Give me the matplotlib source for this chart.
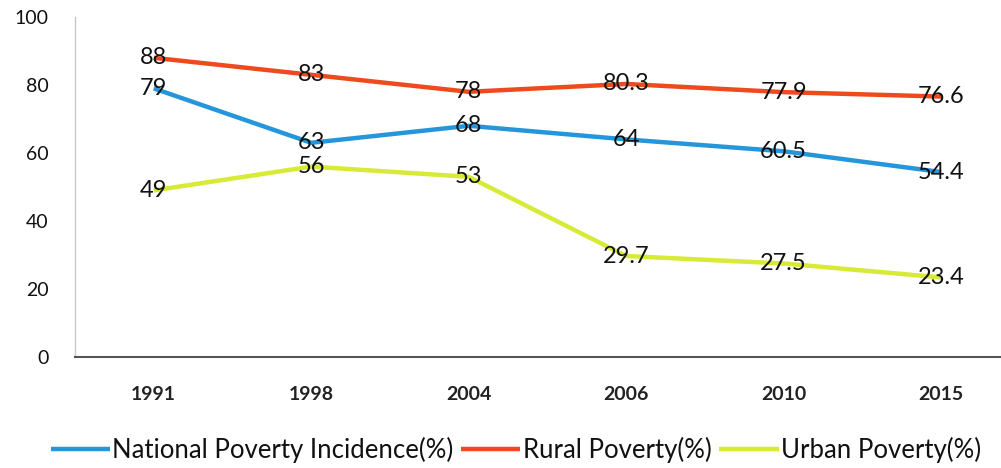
import matplotlib
matplotlib.use("Agg")
import matplotlib.pyplot as plt

years = ["1991", "1998", "2004", "2006", "2010", "2015"]
national = [79, 63, 68, 64, 60.5, 54.4]
rural = [88, 83, 78, 80.3, 77.9, 76.6]
urban = [49, 56, 53, 29.7, 27.5, 23.4]
series_names = ["National Poverty Incidence(%)", "Rural Poverty(%)", "Urban Poverty(%)"]
y_ticks = [0, 20, 40, 60, 80, 100]

colors = ["#2696dc", "#ee4a1e", "#d6ea36"]

plt.rcParams['font.family'] = ['Lato', 'DejaVu Sans']

W, H = 1001, 468
fig = plt.figure(figsize=(W / 100, H / 100), dpi=100)
ax = fig.add_axes([75 / W, 1 - 357 / H, 1 - 75 / W, (357 - 17) / H])

x = list(range(len(years)))
for vals, name, c in zip([national, rural, urban], series_names, colors):
    ax.plot(x, vals, color=c, lw=3.2, label=name, solid_capstyle='butt', zorder=2)
    for xi, v in zip(x, vals):
        ax.text(xi, v, f"{v:g}", ha='center', va='center', fontsize=17,
                color='#111111', zorder=3)

ax.set_xlim(-0.5, 5.38)
ax.set_ylim(0, 100)
ax.set_xticks(x)
ax.set_xticklabels(years, fontsize=14, fontweight='bold', color='#222222')
ax.set_yticks(y_ticks)
ax.set_yticklabels([str(t) for t in y_ticks], fontsize=14, color='#111111')
ax.tick_params(axis='both', length=0)
ax.tick_params(axis='y', pad=19)
ax.tick_params(axis='x', pad=21)

for s in ['top', 'right']:
    ax.spines[s].set_visible(False)
ax.spines['left'].set_color('#c8c8c8')
ax.spines['left'].set_linewidth(1.0)
ax.spines['bottom'].set_color('#555555')
ax.spines['bottom'].set_linewidth(1.5)

leg = fig.legend(loc='center', bbox_to_anchor=(516 / W, 1 - 450 / H), ncol=3,
                 frameon=False, fontsize=18.5, handlelength=2.3, handletextpad=0.1,
                 columnspacing=0.3)
for t in leg.get_texts():
    t.set_color('#111111')

fig.savefig("out.png", dpi=100)
